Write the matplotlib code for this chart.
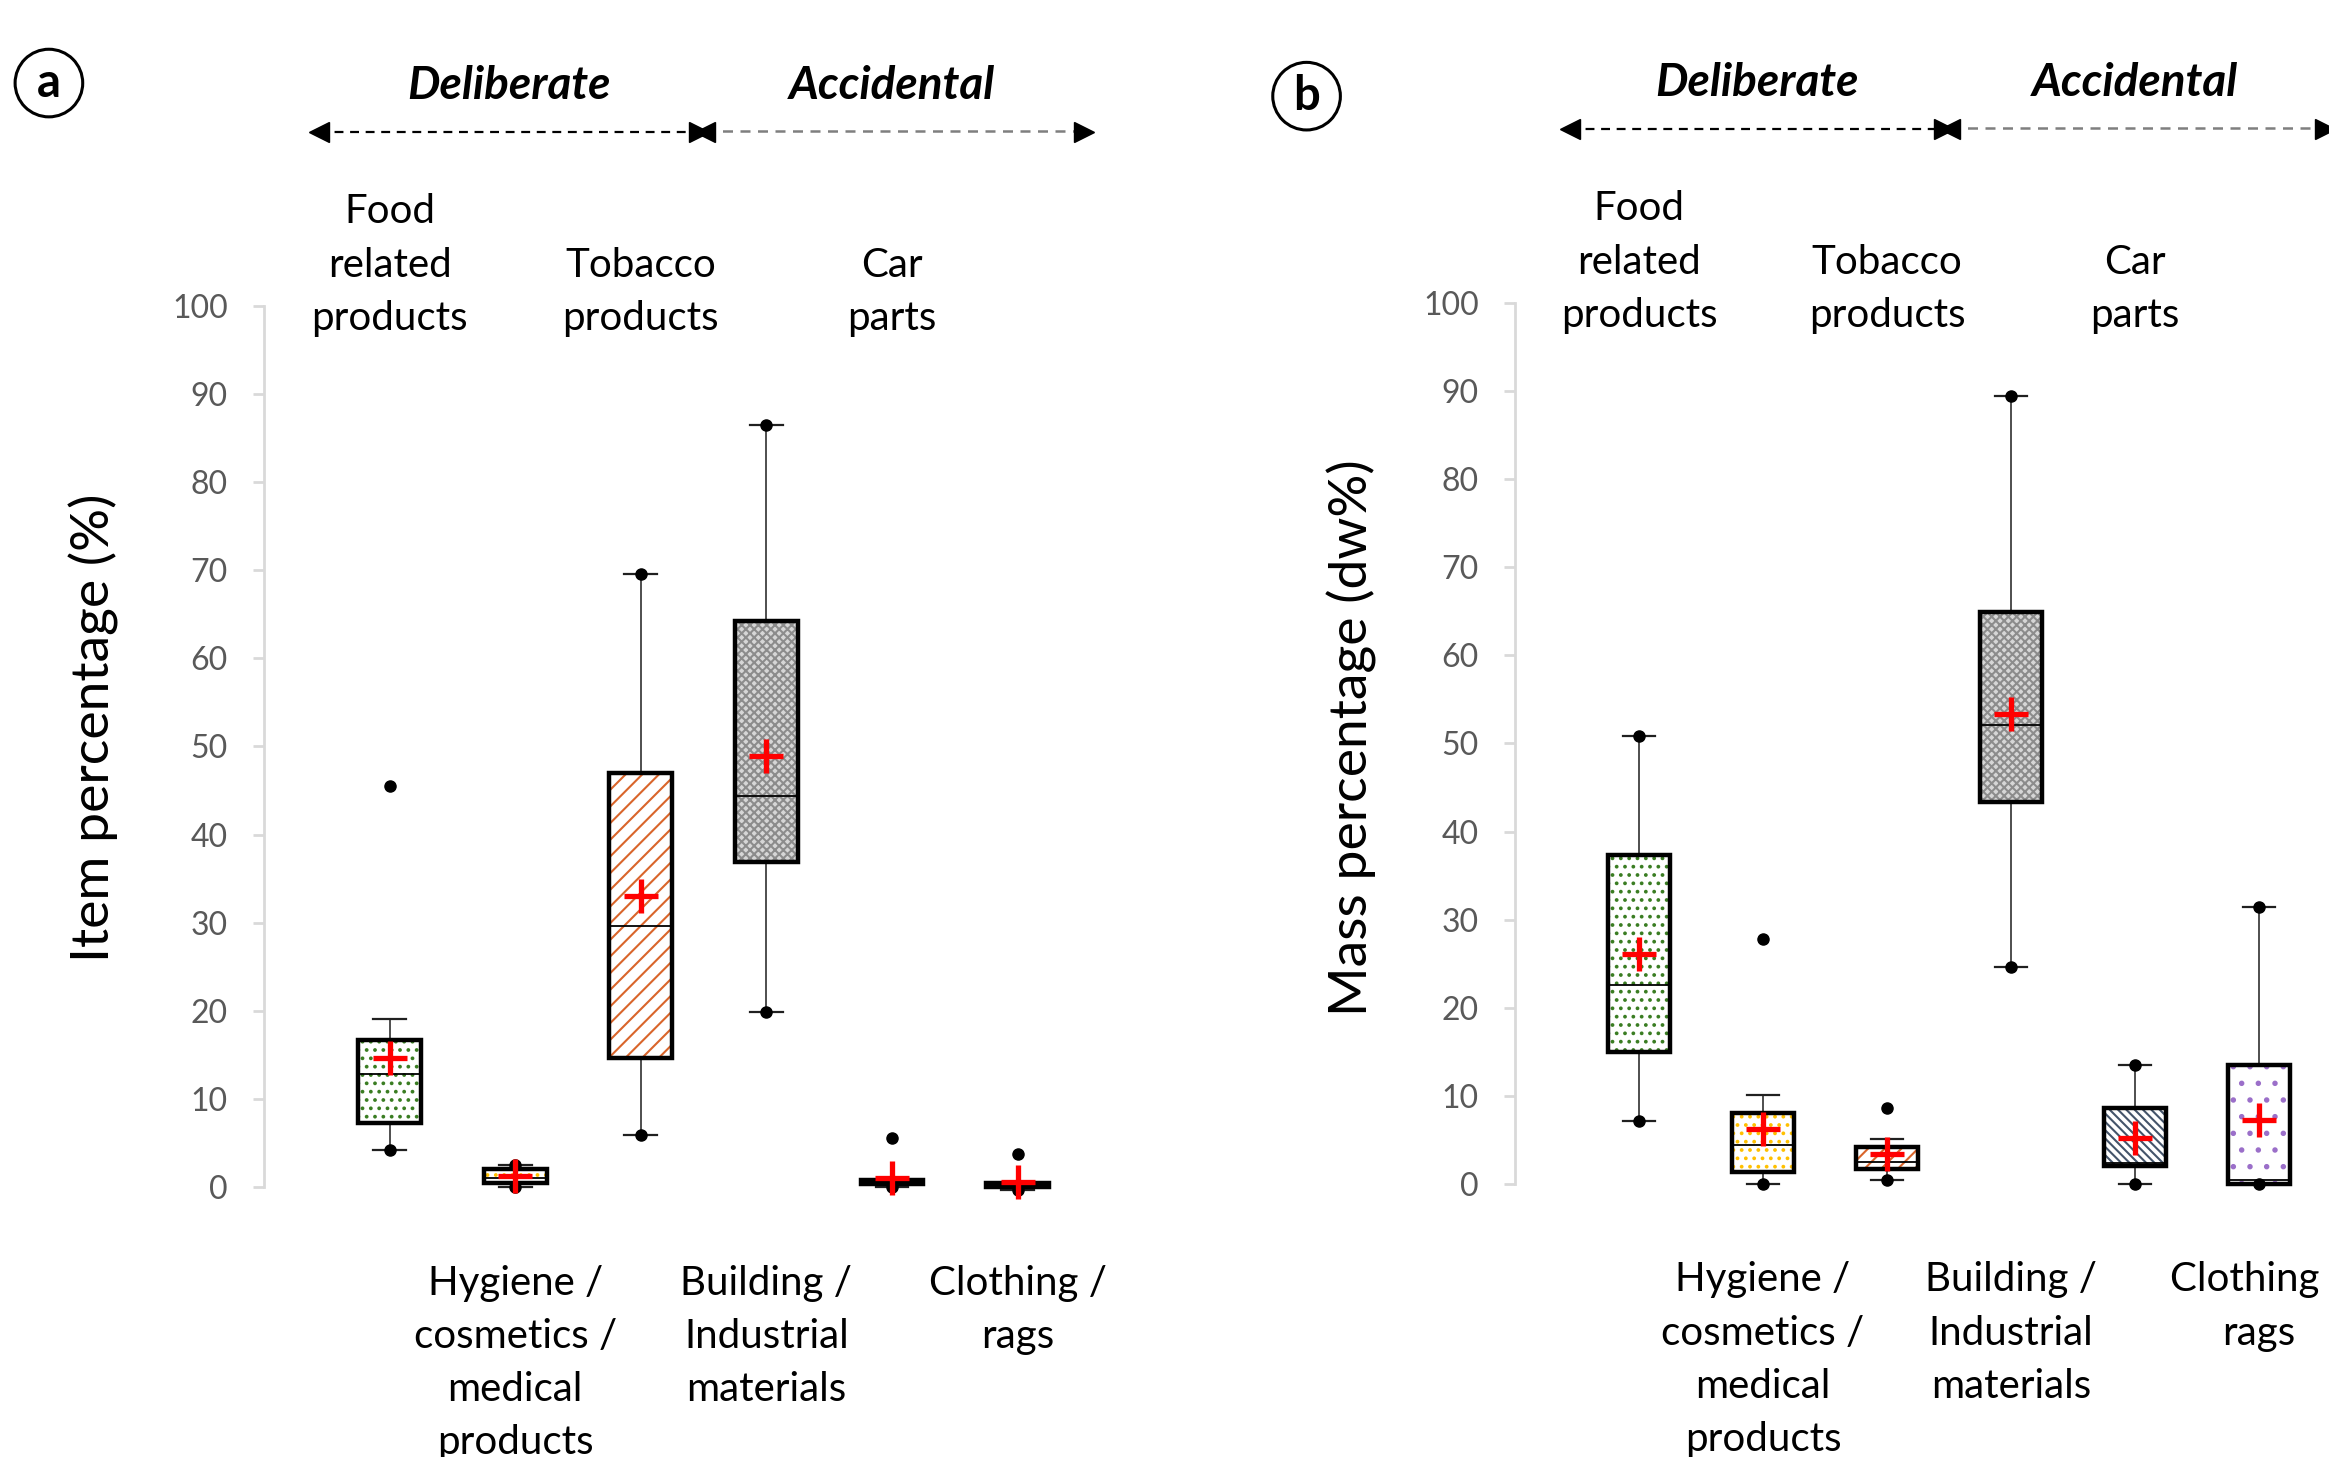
import numpy as np
import matplotlib
matplotlib.use("Agg")
import matplotlib.pyplot as plt
from matplotlib.patches import PathPatch

plt.rcParams["font.family"] = ["Lato", "DejaVu Sans"]
plt.rcParams["hatch.linewidth"] = 1.5

# -------------------------
# data
# -------------------------
categories = ["Food\nrelated\nproducts", "Hygiene /\ncosmetics /\nmedical\nproducts",
              "Tobacco\nproducts", "Building /\nIndustrial\nmaterials",
              "Car\nparts", "Clothing /\nrags"]

# panel a : item percentage (%)
a_q1 = [7.3, 0.5, 14.7, 36.9, 0.3, 0.0]
a_med = [12.8, 1.0, 29.6, 44.4, 0.6, 0.2]
a_q3 = [16.7, 2.0, 47.0, 64.2, 0.8, 0.4]
a_mean = [14.7, 1.2, 33.0, 48.9, 1.0, 0.6]
a_wlo = [4.2, 0.0, 5.9, 19.9, 0.0, -0.3]
a_whi = [19.1, 2.5, 69.6, 86.5, 0.8, 0.4]
a_fliers = [[4.2, 45.5], [0.0, 2.5], [5.9, 69.6], [19.9, 86.5], [0.0, 5.6], [-0.3, 3.7]]

# panel b : mass percentage (dw%)
b_q1 = [15.0, 1.4, 1.7, 43.3, 2.0, 0.0]
b_med = [22.6, 4.4, 2.5, 52.1, 2.4, 0.5]
b_q3 = [37.3, 8.1, 4.2, 64.9, 8.6, 13.5]
b_mean = [26.1, 6.2, 3.4, 53.3, 5.2, 7.3]
b_wlo = [7.1, 0.0, 0.5, 24.6, 0.0, 0.0]
b_whi = [50.9, 10.1, 5.1, 89.4, 13.5, 31.4]
b_fliers = [[7.1, 50.9], [0.0, 27.8], [0.5, 8.6], [24.6, 89.4], [0.0, 13.5], [0.0, 31.4]]

yticks = [0, 10, 20, 30, 40, 50, 60, 70, 80, 90, 100]

# fill styles of the boxes
hatches = ["..", "..", "//", "xxxx", "\\\\\\\\", "."]
hatch_colors = ["#3a7d22", "#ffc000", "#d9652b", "#8c8c8c", "#44546a", "#9b6fc9"]
face_colors = ["white", "white", "white", "#d6d6d6", "white", "white"]


def panel(ax, q1, med, q3, mean, wlo, whi, fliers):
    pos = np.arange(1, 7)
    stats = []
    for i in range(6):
        stats.append(dict(q1=q1[i], med=med[i], q3=q3[i], mean=mean[i],
                          whislo=wlo[i], whishi=whi[i], fliers=fliers[i]))
    art = ax.bxp(stats, positions=pos, widths=0.5, capwidths=0.26,
                 patch_artist=True, showmeans=True,
                 boxprops=dict(linewidth=0.5, zorder=2),
                 medianprops=dict(color="black", linewidth=1.3, zorder=4),
                 whiskerprops=dict(color="#404040", linewidth=1.3),
                 capprops=dict(color="#202020", linewidth=1.6),
                 flierprops=dict(marker="o", markerfacecolor="black",
                                 markeredgecolor="black", markersize=8),
                 meanprops=dict(marker="+", markeredgecolor="red",
                                markersize=24, markeredgewidth=3.8, zorder=6))
    for i, box in enumerate(art["boxes"]):
        box.set_facecolor(face_colors[i])
        box.set_edgecolor(hatch_colors[i])
        box.set_hatch(hatches[i])
        ax.add_patch(PathPatch(box.get_path(), fill=False, edgecolor="black",
                               linewidth=3.2, zorder=3, clip_on=False))
    for k in art:
        for a in art[k]:
            a.set_clip_on(False)

    ax.set_xlim(0, 7)
    ax.set_ylim(0, 100)
    ax.set_yticks(yticks)
    ax.set_xticks([])
    for s in ["top", "right", "bottom"]:
        ax.spines[s].set_visible(False)
    ax.spines["left"].set_color("#d9d9d9")
    ax.spines["left"].set_linewidth(2)
    ax.tick_params(axis="y", colors="#d9d9d9", labelcolor="#595959",
                   labelsize=23, length=8, width=2, pad=18)
    ax.patch.set_visible(False)

    # category names, alternating above / below
    for i in range(6):
        if i % 2 == 0:
            ax.text(pos[i], 96.5, categories[i], ha="center", va="bottom",
                    fontsize=29, linespacing=1.54)
        else:
            ax.text(pos[i], -8.8, categories[i], ha="center", va="top",
                    fontsize=29, linespacing=1.54)

    # deliberate / accidental arrows
    y_arr = 119.7
    ax.plot([0.44, 3.46], [y_arr, y_arr], ls=(0, (4, 3)), color="black", lw=1.6, clip_on=False)
    ax.plot([3.51, 6.53], [y_arr + 0.2, y_arr + 0.2], ls=(0, (4, 3)), color="#7f7f7f", lw=1.8, clip_on=False)
    for x, m in [(0.44, "<"), (3.46, ">"), (3.51, "<"), (6.53, ">")]:
        ax.plot(x, y_arr, marker=m, color="black", markersize=14, clip_on=False)
    ax.text(1.95, 125.0, "Deliberate", ha="center", va="center", fontsize=33,
            fontweight="bold", fontstyle="italic")
    ax.text(5.0, 125.0, "Accidental", ha="center", va="center", fontsize=33,
            fontweight="bold", fontstyle="italic")


fig = plt.figure(figsize=(23.29, 14.57), dpi=100)
ax_a = fig.add_axes([0.1134, 0.1853, 0.3774, 0.6047])
ax_b = fig.add_axes([0.6505, 0.1874, 0.3727, 0.6047])

panel(ax_a, a_q1, a_med, a_q3, a_mean, a_wlo, a_whi, a_fliers)
panel(ax_b, b_q1, b_med, b_q3, b_mean, b_wlo, b_whi, b_fliers)

fig.text(0.0404, 0.5003, "Item percentage (%)", rotation=90, ha="center", va="center", fontsize=38.5)
fig.text(0.5805, 0.4935, "Mass percentage (dw%)", rotation=90, ha="center", va="center", fontsize=38.5)

circ = dict(boxstyle="circle,pad=0.25", facecolor="white", edgecolor="black", linewidth=2.2)
fig.text(0.021, 0.943, "a", ha="center", va="center", fontsize=34, fontweight="bold", bbox=circ)
fig.text(0.561, 0.934, "b", ha="center", va="center", fontsize=34, fontweight="bold", bbox=circ)

fig.savefig("out.png", dpi=100)
